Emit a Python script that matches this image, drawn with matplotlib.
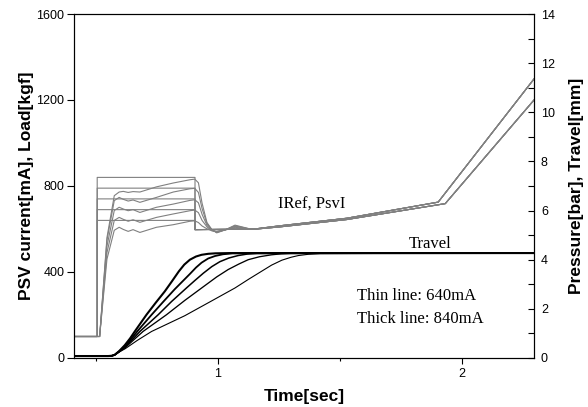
import matplotlib
matplotlib.use("Agg")
import matplotlib.pyplot as plt
from matplotlib.ticker import MultipleLocator

# PSV current command (IRef) per step level [mA]
levels = [840, 790, 740, 690, 640]
iref_t = [0.41, 0.505, 0.505, 0.906, 0.906, 1.15, 1.255, 1.528, 1.903, 2.296]
iref_tail = [597, 600, 615, 650, 725, 1298]

# measured PSV current (PsvI) [mA]
psv_t = [0.41, 0.515, 0.545, 0.575, 0.595, 0.612, 0.632, 0.652, 0.68, 0.748,
         0.817, 0.885, 0.905, 0.92, 0.935, 0.955, 0.975, 0.995, 1.03, 1.07,
         1.14, 1.255, 1.528, 1.932, 2.296]
psv_840 = [100, 100, 560, 755, 772, 775, 770, 774, 772, 796,
           814, 829, 832, 815, 720, 630, 598, 582, 596, 618,
           598, 610, 644, 718, 1200]
psv_790 = [100, 100, 548, 732, 747, 738, 730, 735, 724, 747,
           772, 787, 789, 770, 695, 625, 596, 584, 596, 615,
           598, 610, 644, 718, 1200]
psv_740 = [100, 100, 520, 686, 701, 693, 685, 690, 677, 701,
           716, 733, 736, 722, 668, 617, 594, 586, 596, 612,
           598, 610, 644, 718, 1200]
psv_690 = [100, 100, 490, 640, 654, 645, 636, 643, 631, 654,
           670, 685, 688, 676, 640, 610, 592, 588, 596, 608,
           598, 610, 644, 718, 1200]
psv_640 = [100, 100, 460, 594, 608, 598, 589, 597, 584, 608,
           620, 636, 638, 630, 614, 601, 592, 590, 596, 604,
           598, 610, 644, 718, 1200]
psv_all = [psv_840, psv_790, psv_740, psv_690, psv_640]

# spool travel [mm], 840mA (thick) ... 640mA (thin)
trav_840_t = [0.41, 0.55, 0.565, 0.577, 0.595, 0.618, 0.64, 0.659, 0.707, 0.745, 0.782,
              0.812, 0.840, 0.862, 0.885, 0.91, 0.933, 0.96, 0.99, 1.05, 2.296]
trav_840 = [0.08, 0.08, 0.09, 0.13, 0.28, 0.52, 0.80, 1.08, 1.76, 2.25, 2.71,
            3.13, 3.53, 3.80, 4.0, 4.13, 4.2, 4.24, 4.26, 4.27, 4.27]
trav_790_t = [0.41, 0.55, 0.565, 0.577, 0.595, 0.62, 0.645, 0.669, 0.728, 0.775, 0.823,
              0.855, 0.885, 0.91, 0.933, 0.96, 0.988, 1.02, 1.06, 2.296]
trav_790 = [0.08, 0.08, 0.09, 0.13, 0.27, 0.48, 0.78, 1.08, 1.76, 2.28, 2.80,
            3.12, 3.42, 3.68, 3.88, 4.05, 4.15, 4.22, 4.26, 4.27]
trav_740_t = [0.41, 0.55, 0.565, 0.577, 0.595, 0.62, 0.65, 0.68, 0.755, 0.81, 0.871,
              0.905, 0.94, 0.975, 1.008, 1.045, 1.083, 1.12, 1.16, 2.296]
trav_740 = [0.08, 0.08, 0.09, 0.13, 0.26, 0.45, 0.76, 1.08, 1.76, 2.30, 2.85,
            3.15, 3.45, 3.72, 3.92, 4.07, 4.17, 4.23, 4.26, 4.27]
trav_690_t = [0.41, 0.55, 0.565, 0.577, 0.595, 0.62, 0.655, 0.693, 0.789, 0.865, 0.947,
              0.995, 1.042, 1.085, 1.124, 1.17, 1.22, 1.26, 1.30, 2.296]
trav_690 = [0.08, 0.08, 0.09, 0.13, 0.25, 0.42, 0.74, 1.08, 1.76, 2.35, 2.95,
            3.30, 3.60, 3.82, 4.0, 4.12, 4.2, 4.24, 4.26, 4.27]
trav_640_t = [0.41, 0.55, 0.565, 0.577, 0.595, 0.62, 0.67, 0.728, 0.864, 0.97, 1.07,
              1.125, 1.179, 1.22, 1.262, 1.30, 1.33, 1.37, 1.42, 2.296]
trav_640 = [0.08, 0.08, 0.09, 0.13, 0.24, 0.38, 0.72, 1.08, 1.72, 2.30, 2.85,
            3.20, 3.53, 3.78, 3.98, 4.10, 4.17, 4.22, 4.25, 4.27]
travel = [(trav_840_t, trav_840), (trav_790_t, trav_790), (trav_740_t, trav_740),
          (trav_690_t, trav_690), (trav_640_t, trav_640)]
travel_lw = [1.5, 1.3, 1.1, 0.95, 0.8]

sans = "Liberation Sans"
serif = "Liberation Serif"
gray = "#808080"

fig = plt.figure(figsize=(5.88, 4.07), dpi=100)
ax = fig.add_axes([0.1259, 0.1204, 0.7823, 0.8452])
ax2 = ax.twinx()

for lev in levels:
    ax.plot(iref_t, [100, 100, lev, lev] + iref_tail, color=gray, lw=0.8)
for vals in psv_all:
    ax.plot(psv_t, vals, color=gray, lw=0.8)

for (t, v), lw in zip(travel, travel_lw):
    ax2.plot(t, v, color="black", lw=lw)

ax.set_xlim(0.41, 2.296)
ax.set_ylim(0, 1600)
ax2.set_ylim(0, 14)

ax.set_xticks([1, 2])
ax.xaxis.set_minor_locator(MultipleLocator(0.5))
ax.set_yticks([0, 400, 800, 1200, 1600])
ax2.set_yticks(range(0, 15, 2))
ax2.yaxis.set_minor_locator(MultipleLocator(1))

ax.tick_params(axis="x", which="major", direction="out", length=4.5, width=0.8, pad=3)
ax.tick_params(axis="x", which="minor", direction="out", length=2.5, width=0.8)
ax.tick_params(axis="y", which="major", direction="out", length=5, width=0.8, pad=2)
ax2.tick_params(axis="y", which="both", direction="in", length=4, width=0.8, pad=5)

for a in (ax, ax2):
    for s in a.spines.values():
        s.set_linewidth(0.8)
    for lab in a.get_xticklabels() + a.get_yticklabels():
        lab.set_fontfamily(sans)
        lab.set_fontsize(9)

ax.set_xlabel("Time[sec]", fontfamily=sans, fontsize=12.5, fontweight="bold", labelpad=6)
ax.set_ylabel("PSV current[mA], Load[kgf]", fontfamily=sans, fontsize=12.5,
              fontweight="bold", labelpad=2)
ax2.set_ylabel("Pressure[bar], Travel[mm]", fontfamily=sans, fontsize=12.5,
               fontweight="bold", rotation=90, labelpad=10)

ax.text(1.246, 696, "IRef, PsvI", fontfamily=serif, fontsize=12, va="baseline")
ax.text(1.871, 513, "Travel", fontfamily=serif, fontsize=12, va="baseline", ha="center")
ax.text(1.572, 270, "Thin line: 640mA", fontfamily=serif, fontsize=12, va="baseline")
ax.text(1.572, 164, "Thick line: 840mA", fontfamily=serif, fontsize=12, va="baseline")

fig.savefig("out.png", dpi=100)
plt.close(fig)
